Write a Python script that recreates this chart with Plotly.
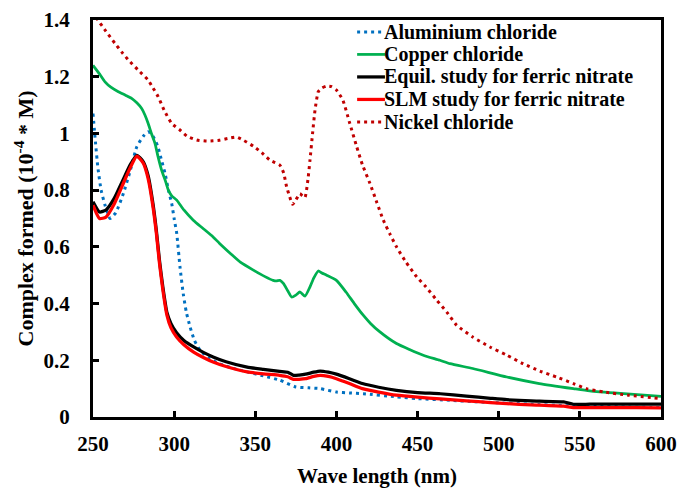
import plotly.graph_objects as go

# ---------------- data ----------------
al_x = [250, 251.5, 253, 255, 257.5, 260.5, 264, 268.7, 273, 277, 281, 284, 287, 290, 292,
        294.4, 296.5, 298.5, 300, 301.6, 303.6, 305.6, 307.5, 309.8, 312.5, 316, 322, 328,
        336, 345, 355, 365, 375, 383, 390, 400, 408, 416.5, 437, 450, 470, 485, 500, 520,
        540, 560, 580, 600]
al_y = [1.07, 0.97, 0.88, 0.80, 0.745, 0.70, 0.72, 0.788, 0.87, 0.953, 0.99, 1.006, 0.99,
        0.953, 0.91, 0.859, 0.80, 0.753, 0.70, 0.647, 0.529, 0.435, 0.37, 0.318, 0.27, 0.235,
        0.205, 0.188, 0.172, 0.159, 0.145, 0.13, 0.106, 0.103, 0.10, 0.088, 0.085, 0.082,
        0.071, 0.065, 0.059, 0.054, 0.05, 0.045, 0.04, 0.037, 0.035, 0.033]

cu_x = [250, 254, 257.4, 261, 265.6, 270, 273.8, 277, 280, 282, 284, 286, 288.2, 290, 292.3,
        294.5, 296.4, 298.5, 301.6, 306, 311.8, 318, 324, 328, 335, 341, 348.8, 356, 361, 363,
        365.2, 367.3, 370, 372.4, 375, 377.5, 380.6, 383.7, 386, 388.8, 391, 394, 400, 406,
        411, 416.5, 421, 426.8, 437, 445, 453.5, 463.8, 470, 484, 505, 525, 546, 556, 575, 600]
cu_y = [1.24, 1.21, 1.182, 1.163, 1.147, 1.135, 1.124, 1.108, 1.088, 1.065, 1.035, 1.0, 0.965,
        0.92, 0.87, 0.835, 0.80, 0.78, 0.765, 0.73, 0.694, 0.664, 0.635, 0.612, 0.575, 0.545,
        0.518, 0.495, 0.482, 0.48, 0.482, 0.471, 0.445, 0.423, 0.43, 0.441, 0.426, 0.459, 0.49,
        0.515, 0.508, 0.50, 0.482, 0.44, 0.40, 0.359, 0.33, 0.30, 0.259, 0.238, 0.218, 0.20,
        0.188, 0.171, 0.141, 0.118, 0.10, 0.092, 0.083, 0.073]

fe_x = [250, 254, 258, 263, 268, 273, 277, 281, 284, 287, 289, 291, 293, 295.5, 298, 301.5,
        306, 312, 318, 324, 332, 345, 355, 365, 370, 373.5, 377, 381, 386, 390, 395, 400, 408,
        416, 426, 437, 450, 464, 480, 495, 505, 520, 540, 546, 556, 570, 585, 600]
equil_y = [0.759, 0.723, 0.73, 0.77, 0.83, 0.89, 0.923, 0.90, 0.85, 0.75, 0.66, 0.55, 0.46,
           0.37, 0.33, 0.297, 0.27, 0.247, 0.228, 0.212, 0.195, 0.176, 0.168, 0.161, 0.158,
           0.147, 0.148, 0.151, 0.158, 0.162, 0.158, 0.151, 0.135, 0.118, 0.105, 0.094, 0.086,
           0.082, 0.074, 0.066, 0.061, 0.057, 0.053, 0.045, 0.045, 0.045, 0.045, 0.045]
slm_y = [0.747, 0.70, 0.705, 0.75, 0.815, 0.88, 0.92, 0.895, 0.84, 0.74, 0.65, 0.54, 0.45,
         0.36, 0.315, 0.282, 0.255, 0.229, 0.21, 0.194, 0.178, 0.159, 0.152, 0.147, 0.142,
         0.133, 0.133, 0.135, 0.143, 0.147, 0.143, 0.135, 0.118, 0.10, 0.088, 0.077, 0.07,
         0.064, 0.057, 0.051, 0.047, 0.043, 0.038, 0.033, 0.033, 0.033, 0.033, 0.032]

ni_x = [250, 253, 258, 263.6, 268, 271.8, 277.9, 284, 287, 290.2, 294, 298.5, 303.6, 308,
        313.9, 320, 324, 328, 333, 338.5, 343, 348.8, 354, 359, 365.2, 367.5, 369.3, 371, 373,
        375, 377.5, 379, 380.6, 382.5, 383.7, 385.3, 386.8, 388.8, 391, 394, 397, 400, 404, 408,
        412.5, 416, 420.7, 425, 428.9, 433, 437, 443, 449.5, 455, 461.8, 468, 474, 484, 494.6,
        505, 515, 525.4, 535.7, 546, 554, 565, 580, 600]
ni_y = [1.43, 1.40, 1.36, 1.317, 1.285, 1.259, 1.223, 1.188, 1.16, 1.129, 1.08, 1.035, 1.012,
        0.99, 0.977, 0.973, 0.974, 0.976, 0.982, 0.987, 0.975, 0.955, 0.932, 0.906, 0.888, 0.86,
        0.812, 0.78, 0.75, 0.765, 0.788, 0.78, 0.774, 0.84, 0.906, 1.0, 1.082, 1.147, 1.16,
        1.167, 1.165, 1.153, 1.117, 1.04, 0.953, 0.89, 0.823, 0.755, 0.694, 0.645, 0.60, 0.545,
        0.494, 0.46, 0.412, 0.37, 0.324, 0.282, 0.247, 0.218, 0.188, 0.162, 0.141, 0.118, 0.10,
        0.088, 0.077, 0.065]

x_ticks = [250, 300, 350, 400, 450, 500, 550, 600]
y_ticks = [0, 0.2, 0.4, 0.6, 0.8, 1.0, 1.2, 1.4]
y_tick_text = ["0", "0.2", "0.4", "0.6", "0.8", "1", "1.2", "1.4"]

series_names = ["Aluminium chloride", "Copper chloride", "Equil. study for ferric nitrate",
                "SLM study for ferric nitrate", "Nickel chloride"]

FONT = "Liberation Serif, Times New Roman, serif"

styles = [
    dict(color="#0070C0", width=3, dash="3px,4px"),
    dict(color="#00B050", width=2.75, dash="solid"),
    dict(color="#000000", width=3.25, dash="solid"),
    dict(color="#FF0000", width=3.25, dash="solid"),
    dict(color="#C00000", width=3, dash="3px,4px"),
]
series = [(al_x, al_y), (cu_x, cu_y), (fe_x, equil_y), (fe_x, slm_y), (ni_x, ni_y)]

fig = go.Figure()
for (xs, ys), name, st in zip(series, series_names, styles):
    fig.add_trace(go.Scatter(x=xs, y=ys, mode="lines", name=name, showlegend=False,
                             line=dict(shape="spline", smoothing=0.5, **st)))

# compact legend (reference rows are tighter than Plotly's native legend allows)
leg_x0, leg_x1, txt_x = 0.465, 0.514, 0.511
leg_top, leg_step = 0.97, 0.0567
for i, (name, st) in enumerate(zip(series_names, styles)):
    yy = leg_top - i * leg_step
    fig.add_shape(type="line", xref="paper", yref="paper", x0=leg_x0, x1=leg_x1, y0=yy, y1=yy,
                  line=dict(color=st["color"], width=st["width"], dash=st["dash"]))
    fig.add_annotation(xref="paper", yref="paper", x=txt_x, y=yy, text=name, showarrow=False,
                       xanchor="left", yanchor="middle", borderpad=0,
                       font=dict(family=FONT, size=20, color="black", weight="bold"))

axis_common = dict(showgrid=False, zeroline=False, showline=True, linecolor="black",
                   linewidth=3, mirror=True, ticks="inside", ticklen=6, tickwidth=2.5,
                   automargin=False,
                   tickcolor="black", tickfont=dict(family=FONT, size=21, color="black", weight="bold"))

fig.update_xaxes(range=[250, 600], tickvals=x_ticks, ticklabelstandoff=6,
                 title=dict(text="Wave length (nm)", standoff=14,
                            font=dict(family=FONT, size=21, color="black", weight="bold")),
                 **axis_common)
fig.update_yaxes(range=[0, 1.4], tickvals=y_ticks, ticktext=y_tick_text, ticklabelstandoff=16,
                 title=dict(text="Complex formed (10<sup>-4</sup> * M)", standoff=4,
                            font=dict(family=FONT, size=22, color="black", weight="bold")),
                 **axis_common)

fig.update_layout(
    width=681, height=488,
    margin=dict(l=93, r=20, t=20, b=71, autoexpand=False),
    paper_bgcolor="white", plot_bgcolor="white",
    font=dict(family=FONT, color="black"),
    showlegend=False,
)

fig.write_html("out.html")
